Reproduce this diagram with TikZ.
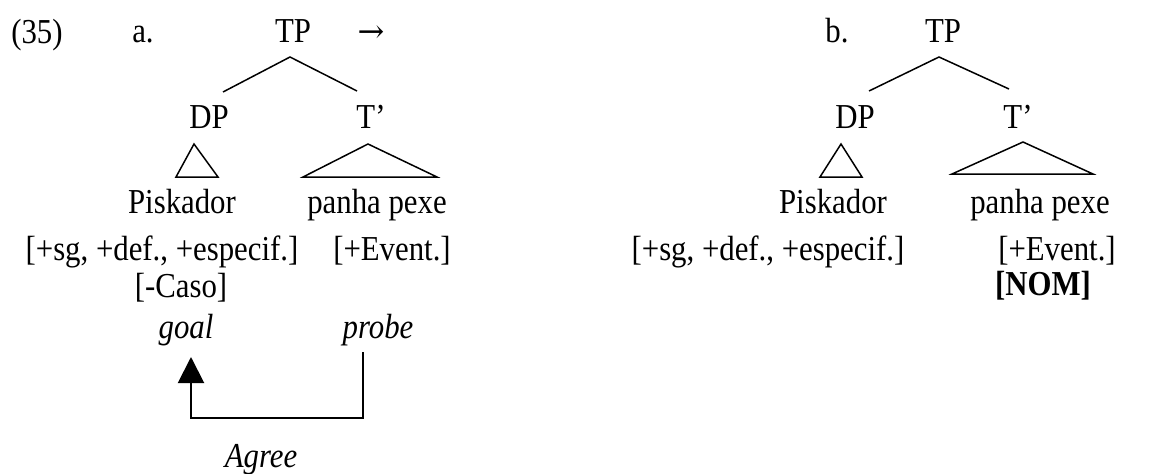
\documentclass[tikz,border=0pt]{standalone}
\usepackage{fontspec}
\setmainfont{Liberation Serif}[FakeStretch=0.88]
\newfontfamily\arrowfont{DejaVu Serif}
\usetikzlibrary{arrows.meta}
\begin{document}
\begin{tikzpicture}[x=1pt,y=-1pt,
  txt/.style={inner sep=0pt, anchor=base, font=\fontsize{35}{40}\selectfont},
  itx/.style={txt, font=\fontsize{35}{40}\selectfont\itshape},
  ln/.style={line width=1.5pt, line join=miter},
  agreearrow/.style={line width=2pt, -{Triangle[length=26pt,width=26pt]}}]
\useasboundingbox (0,0) rectangle (1173,474);
% ---------- (a) ----------
\node[txt] (num) at (37,43) {(35)};
\node[txt] (la) at (143,42) {a.};
\node[txt] (aTP) at (293,42) {TP};
\node[txt, font=\fontsize{32}{36}\arrowfont] (arr) at (371,42) {→};
\node[txt] (aDP) at (209,128) {DP};
\node[txt] (aT) at (371,128) {T’};
\node[txt] (aPisk) at (182,213) {Piskador};
\node[txt] (aPan) at (377,213) {panha pexe};
\node[txt] (aFeat) at (162,260) {[+sg, +def., +especif.]};
\node[txt] (aEv) at (392,260) {[+Event.]};
\node[txt] (aCaso) at (181,297) {[-Caso]};
\node[itx] (goal) at (186,338) {goal};
\node[itx] (probe) at (378,338) {probe};
\node[itx] (agree) at (261,467) {Agree};
\coordinate (aTPx) at (290,57);
\coordinate (aDPe) at (223,92);
\coordinate (aTe) at (357,91);
\draw[ln] (aDPe) -- (aTPx) -- (aTe);
\coordinate (aDPt) at (194,144);
\coordinate (aDPl) at (176,177);
\coordinate (aDPr) at (218,177);
\draw[ln] (aDPt) -- (aDPl) -- (aDPr) -- cycle;
\coordinate (aTt) at (368,144);
\coordinate (aTl) at (303,177);
\coordinate (aTr) at (437,177);
\draw[ln] (aTt) -- (aTl) -- (aTr) -- cycle;
\coordinate (ps) at (363,352);
\coordinate (pc) at (363,418);
\coordinate (gc) at (191,418);
\coordinate (ge) at (191,357);
\draw[agreearrow] (ps) -- (pc) -- (gc) -- (ge);
% ---------- (b) ----------
\node[txt] (lb) at (837,42) {b.};
\node[txt] (bTP) at (943,42) {TP};
\node[txt] (bDP) at (855,128) {DP};
\node[txt] (bT) at (1018,128) {T’};
\node[txt] (bPisk) at (833,213) {Piskador};
\node[txt] (bPan) at (1040,213) {panha pexe};
\node[txt] (bFeat) at (768,260) {[+sg, +def., +especif.]};
\node[txt] (bEv) at (1057,260) {[+Event.]};
\node[txt] (bNom) at (1043,295) {\bfseries [NOM]};
\coordinate (bTPx) at (939,57);
\coordinate (bDPe) at (869,91);
\coordinate (bTe) at (1009,89);
\draw[ln] (bDPe) -- (bTPx) -- (bTe);
\coordinate (bDPt) at (841,144);
\coordinate (bDPl) at (820,177);
\coordinate (bDPr) at (862,177);
\draw[ln] (bDPt) -- (bDPl) -- (bDPr) -- cycle;
\coordinate (bTt) at (1023,142);
\coordinate (bTl) at (952,174);
\coordinate (bTr) at (1093,174);
\draw[ln] (bTt) -- (bTl) -- (bTr) -- cycle;
\end{tikzpicture}
\end{document}
